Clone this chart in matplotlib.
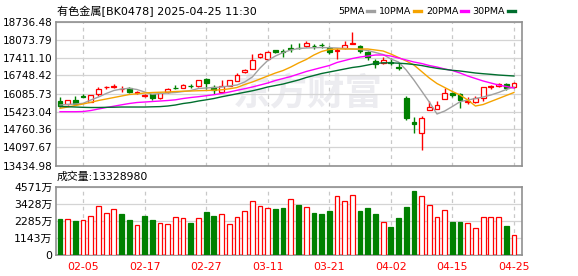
import matplotlib
matplotlib.use("Agg")
import matplotlib.pyplot as plt
import numpy as np

plt.rcParams['font.family'] = ['DejaVu Sans', 'Noto Sans CJK SC']

# ---- data ----
dates = ["01-24", "01-27", "02-04", "02-05", "02-06", "02-07", "02-10", "02-11", "02-12", "02-13",
         "02-14", "02-17", "02-18", "02-19", "02-20", "02-21", "02-24", "02-25", "02-26", "02-27",
         "02-28", "03-03", "03-04", "03-05", "03-06", "03-07", "03-10", "03-11", "03-12", "03-13",
         "03-14", "03-17", "03-18", "03-19", "03-20", "03-21", "03-24", "03-25", "03-26", "03-27",
         "03-28", "03-31", "04-01", "04-02", "04-03", "04-07", "04-08", "04-09", "04-10", "04-11",
         "04-14", "04-15", "04-16", "04-17", "04-18", "04-21", "04-22", "04-23", "04-24", "04-25"]

opens = [15810, 15690, 15830, 16000, 15780, 16060, 16310, 16340, 16250, 16300,
         16090, 15990, 16070, 15910, 16140, 16300, 16300, 16370, 16360, 16630,
         16330, 16150, 16370, 16550, 16860, 16980, 17420, 17340, 17670, 17640,
         17750, 17760, 17820, 17840, 17870, 17750, 17640, 17750, 17920, 17830,
         17600, 17290, 17200, 17240, 17070, 15930, 15050, 14620, 15490, 15520,
         15900, 16110, 16070, 15790, 15770, 15910, 16320, 16370, 16440, 16310]
closes = [15640, 15830, 15690, 15970, 16020, 16240, 16330, 16360, 16260, 16130,
          16130, 16040, 15910, 16115, 16260, 16280, 16390, 16350, 16570, 16460,
          16200, 16360, 16580, 16760, 16960, 17310, 17530, 17620, 17610, 17620,
          17740, 17750, 17930, 17830, 17860, 17600, 17690, 17870, 17940, 17640,
          17440, 17180, 17320, 17200, 17040, 15190, 14950, 15170, 15590, 15650,
          16100, 16040, 15840, 15820, 15910, 16320, 16350, 16440, 16290, 16490]
highs = [15950, 15840, 15990, 16060, 16030, 16335, 16370, 16435, 16360, 16340,
         16170, 16060, 16080, 16130, 16290, 16400, 16420, 16450, 16580, 16640,
         16400, 16580, 16600, 16830, 16990, 17530, 17570, 17650, 17690, 17720,
         17910, 17930, 18020, 17910, 17930, 17840, 17750, 18020, 18340, 17860,
         17650, 17340, 17420, 17380, 17200, 16000, 15210, 15270, 15820, 15820,
         16270, 16150, 16110, 15950, 15980, 16330, 16400, 16480, 16480, 16500]
lows = [15600, 15660, 15670, 15940, 15770, 16005, 16240, 16280, 16140, 16090,
        16050, 15960, 15840, 15890, 16120, 16260, 16280, 16280, 16340, 16240,
        16050, 16140, 16360, 16540, 16850, 16970, 17380, 17320, 17590, 17420,
        17600, 17740, 17810, 17730, 17750, 17530, 17350, 17740, 17910, 17570,
        17330, 17010, 17190, 17130, 16950, 15120, 14620, 14000, 15480, 15510,
        15880, 15970, 15570, 15710, 15740, 15820, 16240, 16340, 16230, 16300]

ma5 = [15662, 15680, 15699, 15724, 15846, 15956, 16085, 16196, 16251, 16277,
       16233, 16141, 16056, 16085, 16104, 16122, 16159, 16196, 16269, 16288,
       16306, 16325, 16361, 16398, 16509, 16693, 17024, 17300, 17466, 17595,
       17687, 17742, 17760, 17771, 17779, 17771, 17760, 17742, 17724, 17705,
       17668, 17595, 17521, 17356, 17245, 16951, 16582, 16177, 15772, 15331,
       15441, 15607, 15783, 15846, 15901, 15956, 16030, 16122, 16233, 16325]
ma10 = [15540, 15588, 15643, 15699, 15761, 15828, 15883, 15938, 15993, 16048,
        16074, 16104, 16122, 16133, 16141, 16159, 16170, 16177, 16188, 16196,
        16207, 16222, 16258, 16306, 16417, 16509, 16619, 16730, 16840, 16932,
        17061, 17208, 17337, 17503, 17632, 17705, 17724, 17724, 17724, 17724,
        17724, 17687, 17650, 17540, 17411, 17282, 17135, 16896, 16656, 16453,
        16306, 16159, 16030, 15846, 15625, 15680, 15791, 15901, 16012, 16122]
ma20 = [15415, 15415, 15415, 15422, 15459, 15515, 15570, 15618, 15669, 15717,
        15754, 15772, 15791, 15809, 15828, 15853, 15901, 15938, 15968, 16004,
        16041, 16085, 16141, 16203, 16262, 16325, 16398, 16472, 16564, 16638,
        16711, 16803, 16895, 16969, 17043, 17116, 17227, 17300, 17374, 17429,
        17466, 17503, 17503, 17466, 17392, 17319, 17245, 17190, 17116, 17061,
        16988, 16932, 16840, 16730, 16638, 16546, 16472, 16398, 16343, 16288]
ma30 = [15607, 15599, 15588, 15577, 15570, 15570, 15577, 15581, 15588, 15588,
        15588, 15588, 15596, 15603, 15625, 15662, 15717, 15754, 15809, 15853,
        15901, 15964, 16019, 16074, 16130, 16185, 16251, 16325, 16380, 16435,
        16509, 16582, 16674, 16748, 16822, 16877, 16932, 16988, 17043, 17080,
        17135, 17190, 17216, 17216, 17201, 17183, 17153, 17116, 17061, 17013,
        16976, 16939, 16914, 16877, 16840, 16814, 16792, 16766, 16748, 16730]

# volume in units of 万
volume = [2419, 2397, 2286, 2352, 2663, 3329, 2862, 3129, 2752, 2352,
          1997, 2618, 2352, 2130, 2064, 2596, 2463, 2152, 2463, 2885,
          2618, 2796, 2064, 2596, 2951, 3661, 3329, 3195, 3084, 3151,
          3795, 3351, 3262, 2818, 2752, 2951, 3994, 3661, 4061, 2951,
          3151, 2752, 2197, 1886, 2485, 3218, 4283, 3994, 3395, 2596,
          3062, 2219, 2219, 2130, 1797, 2596, 2530, 2530, 1953, 1333]
vol_up = [0, 1, 0, 1, 1, 1, 1, 1, 0, 0, 1, 0, 0, 1, 1, 1, 1, 0, 1, 0,
          0, 1, 1, 1, 1, 1, 1, 1, 0, 0, 1, 0, 1, 0, 0, 0, 1, 1, 1, 0,
          0, 0, 1, 0, 0, 0, 0, 1, 1, 1, 1, 0, 0, 1, 1, 1, 1, 1, 0, 1]

price_ticks = [13434.98, 14097.67, 14760.36, 15423.04, 16085.73,
               16748.42, 17411.10, 18073.79, 18736.48]
vol_ticks = [0, 1143, 2285, 3428, 4571]
label_every = 8
label_start = 3
last_volume = "13328980"

RED = "#ff0000"
GREEN = "#008000"
MA_COLORS = {"5PMA": "#a0a0a0", "10PMA": "#f5a300", "20PMA": "#ff00ff", "30PMA": "#006e2e"}
legend_x = [338, 379, 426, 472]   # left edge of each legend label, px

W, H = 578, 276
fig = plt.figure(figsize=(W / 100, H / 100), dpi=100)
fig.patch.set_facecolor("white")


def fx(px):
    return px / W


def fy(py):
    return 1 - py / H


x = np.arange(len(dates))
xlim = (-0.52, len(dates) - 1 + 1.05)
tick_idx = list(range(label_start, len(dates), label_every))
FS = 7.5

ax = fig.add_axes([fx(56), fy(165.5), fx(522) - fx(56), fy(21.5) - fy(165.5)])
axv = fig.add_axes([fx(56), fy(255.3), fx(522) - fx(56), fy(187) - fy(255.3)])

for a in (ax, axv):
    a.set_xlim(*xlim)
    a.set_xticks(tick_idx)
    a.tick_params(length=0)
    for s in a.spines.values():
        s.set_color("#909090")
        s.set_linewidth(1.2)
    for i in tick_idx:
        a.axvline(i, color="#c8c8c8", lw=0.9, ls=(0, (3, 3)), zorder=0)

# price panel
ax.set_ylim(price_ticks[0], price_ticks[-1])
ax.set_yticks(price_ticks)
ax.set_yticklabels([f"{t:.2f}" for t in price_ticks], fontsize=FS)
ax.tick_params(axis="y", pad=2.5)
ax.yaxis.grid(True, color="#d4d4d4", lw=0.9, zorder=0)
ax.set_xticklabels([])

ax.text(0.54, 0.5, "东方财富", transform=ax.transAxes, fontsize=27, fontweight="bold",
        color="#ececf0", ha="center", va="center", zorder=0.5,
        family=["Noto Sans CJK SC"])

w = 0.62
for i in range(len(dates)):
    o, c, h, l = opens[i], closes[i], highs[i], lows[i]
    up = c >= o
    col = RED if up else GREEN
    lo, hi = min(o, c), max(o, c)
    body = max(hi - lo, 12)
    ax.vlines(i, l, h, color=col, lw=1.0, zorder=2)
    ax.bar(i, body, w, bottom=lo, facecolor="white" if up else col,
           edgecolor=col, lw=0.9, zorder=3)

for name, vals in zip(MA_COLORS, (ma5, ma10, ma20, ma30)):
    ax.plot(x, vals, color=MA_COLORS[name], lw=1.0, zorder=4)

# volume panel
axv.set_ylim(0, vol_ticks[-1])
axv.set_yticks(vol_ticks)
axv.set_yticklabels(["0"] + [f"{t}万" for t in vol_ticks[1:]], fontsize=7.8)
axv.tick_params(axis="y", pad=2.5)
axv.yaxis.grid(True, color="#d4d4d4", lw=0.9, zorder=0)
axv.set_xticklabels([dates[i] for i in tick_idx], color=RED, fontsize=7.8)
axv.tick_params(axis="x", pad=5)
for i in range(len(dates)):
    col = RED if vol_up[i] else GREEN
    axv.bar(i, volume[i], w, facecolor="white" if vol_up[i] else col,
            edgecolor=col, lw=0.9, zorder=3)

# header texts
fig.text(fx(57), fy(11), "有色金属[BK0478] 2025-04-25 11:30", fontsize=8.0,
         va="center", ha="left")
fig.text(fx(57), fy(177), "成交量:" + last_volume, fontsize=7.8, va="center", ha="left")

fig.canvas.draw()
for lx, (name, col) in zip(legend_x, MA_COLORS.items()):
    t = fig.text(fx(lx), fy(11), name, fontsize=6.8, va="center", ha="left")
    bb = t.get_window_extent(renderer=fig.canvas.get_renderer())
    x0 = bb.x1 + 3
    fig.add_artist(plt.Line2D([fx(x0), fx(x0 + 7)], [fy(11), fy(11)],
                              color=col, lw=2.4, transform=fig.transFigure))

fig.savefig("out.png", dpi=100)
